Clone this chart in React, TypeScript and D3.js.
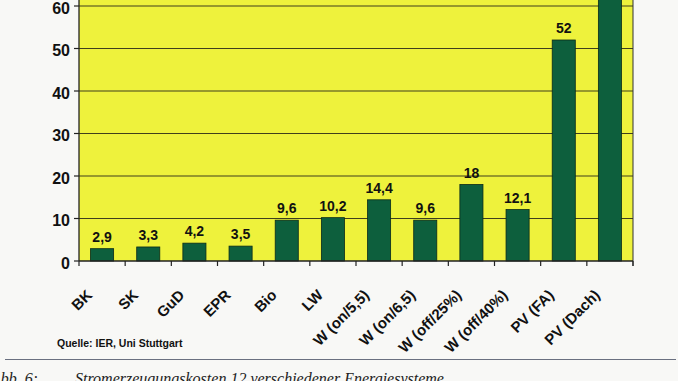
import React from "react";
import * as d3 from "d3";

const categories = ["BK", "SK", "GuD", "EPR", "Bio", "LW", "W (on/5,5)", "W (on/6,5)", "W (off/25%)", "W (off/40%)", "PV (FA)", "PV (Dach)"];
const values = [2.9, 3.3, 4.2, 3.5, 9.6, 10.2, 14.4, 9.6, 18, 12.1, 52, 66];
const yTicks = [0, 10, 20, 30, 40, 50, 60];
const sourceText = "Quelle: IER, Uni Stuttgart";
const captionLabel = "Abb. 6:";
const captionText = "Stromerzeugungskosten 12 verschiedener Energiesysteme";

const W = 678;
const H = 381;
const plotLeft = 79;
const plotRight = 633;
const plotBottom = 261;

const YELLOW = "#eef23c";
const GREEN = "#0d5f3d";
const GRID = "#3f3f1c";
const FONT = "'Liberation Sans', Arial, sans-serif";

export default function App() {
  const x = d3.scaleBand<string>().domain(categories).range([plotLeft, plotRight]).paddingInner(0.5).paddingOuter(0.25);
  const y = d3.scaleLinear().domain([0, 60]).range([plotBottom, 6]);
  const step = x.step();
  const plotTop = y(75);
  const fmt = (v: number) => String(v).replace(".", ",");
  const boundaries = d3.range(categories.length + 1).map((i) => plotLeft + i * step);

  return (
    <svg width={W} height={H} style={{ position: "absolute", left: 0, top: 0, background: "#f8f8f6" }}>
      <rect x={0} y={0} width={W} height={H} fill="#f8f8f6" />
      <rect x={plotLeft} y={plotTop} width={plotRight - plotLeft} height={plotBottom - plotTop} fill={YELLOW} />
      {yTicks.filter((t) => t > 0).map((t) => (
        <line key={"g" + t} x1={plotLeft} x2={plotRight} y1={y(t)} y2={y(t)} stroke={GRID} strokeWidth={1.1} />
      ))}
      {categories.map((c, i) => (
        <rect key={c} x={x(c)} y={y(values[i])} width={x.bandwidth()} height={plotBottom - y(values[i])} fill={GREEN} stroke="#0a2a1a" strokeWidth={0.8} />
      ))}
      {categories.map((c, i) => (
        <text key={"v" + c} x={(x(c) as number) + x.bandwidth() / 2} y={y(values[i]) - 7} textAnchor="middle" fontFamily={FONT} fontWeight="bold" fontSize={14} fill="#111">
          {fmt(values[i])}
        </text>
      ))}
      <line x1={plotLeft} x2={plotLeft} y1={plotTop} y2={plotBottom} stroke="#222" strokeWidth={1.3} />
      <line x1={plotRight} x2={plotRight} y1={plotTop} y2={plotBottom + 5} stroke="#333" strokeWidth={1} />
      <line x1={plotLeft} x2={plotRight} y1={plotBottom} y2={plotBottom} stroke="#222" strokeWidth={1.4} />
      {yTicks.map((t) => (
        <g key={"y" + t}>
          <line x1={plotLeft - 5} x2={plotLeft} y1={y(t)} y2={y(t)} stroke="#222" strokeWidth={1.2} />
          <text x={70} y={y(t)} dy="0.47em" textAnchor="end" fontFamily={FONT} fontWeight="bold" fontSize={16} fill="#111">
            {t}
          </text>
        </g>
      ))}
      {boundaries.map((bx, i) => (
        <line key={"b" + i} x1={bx} x2={bx} y1={plotBottom} y2={plotBottom + 5} stroke="#222" strokeWidth={1.2} />
      ))}
      {categories.map((c) => {
        const cx = (x(c) as number) + x.bandwidth() / 2 - 9;
        const cy = 296;
        return (
          <text key={"l" + c} x={cx} y={cy} transform={`rotate(-45 ${cx} ${cy})`} textAnchor="end" fontFamily={FONT} fontWeight="bold" fontSize={15} fill="#111">
            {c}
          </text>
        );
      })}
      <text x={57} y={347} fontFamily={FONT} fontWeight="bold" fontSize={10.5} fill="#111">
        {sourceText}
      </text>
      <line x1={5} x2={676} y1={359.5} y2={359.5} stroke="#6a7080" strokeWidth={1.2} />
      <text x={-9} y={384} fontFamily="'Liberation Serif', serif" fontStyle="italic" fontSize={16} fill="#222">
        {captionLabel}
      </text>
      <text x={75} y={384} fontFamily="'Liberation Serif', serif" fontStyle="italic" fontSize={16} fill="#222">
        {captionText}
      </text>
    </svg>
  );
}
